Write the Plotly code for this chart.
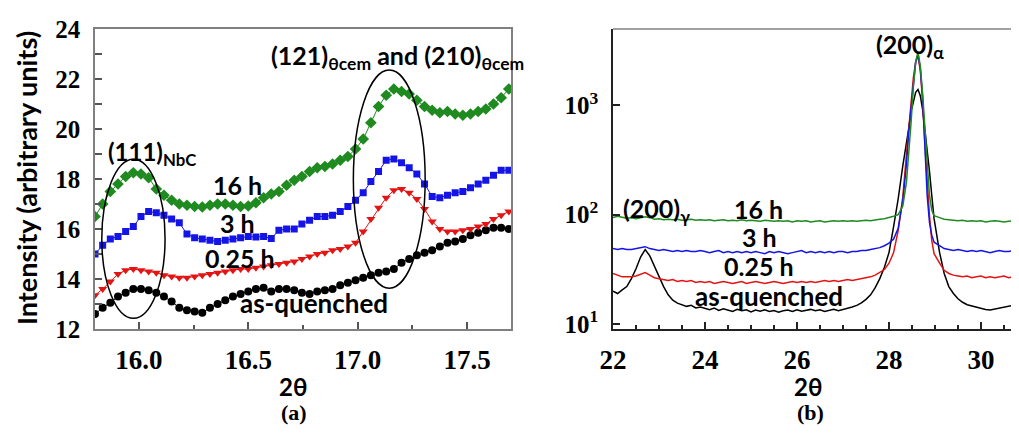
import plotly.graph_objects as go

# ---------------- Panel (a) data ----------------
two_theta_a = [15.800, 15.835, 15.870, 15.905, 15.940, 15.975, 16.010, 16.045, 16.080, 16.115,
               16.150, 16.185, 16.220, 16.255, 16.290, 16.325, 16.360, 16.395, 16.430, 16.465,
               16.500, 16.535, 16.570, 16.605, 16.640, 16.675, 16.710, 16.745, 16.780, 16.815,
               16.850, 16.885, 16.920, 16.955, 16.990, 17.025, 17.060, 17.095, 17.130, 17.165,
               17.200, 17.235, 17.270, 17.305, 17.340, 17.375, 17.410, 17.445, 17.480, 17.515,
               17.550, 17.585, 17.620, 17.655, 17.690]

a_16h = [16.5, 17.0, 17.5, 17.8, 18.1, 18.25, 18.2, 18.05, 17.6, 17.35,
         17.15, 17.0, 16.95, 16.9, 16.88, 16.95, 17.0, 17.0, 16.95, 16.9,
         16.92, 17.05, 17.25, 17.4, 17.5, 17.75, 17.95, 18.1, 18.3, 18.45,
         18.5, 18.6, 18.75, 18.9, 19.2, 19.6, 20.25, 20.9, 21.35, 21.6,
         21.5, 21.4, 21.15, 20.9, 20.75, 20.65, 20.7, 20.6, 20.55, 20.6,
         20.7, 20.8, 21.0, 21.25, 21.6]

a_3h = [15.0, 15.35, 15.6, 15.7, 15.9, 16.1, 16.5, 16.7, 16.65, 16.55,
        16.4, 16.25, 15.8, 15.65, 15.6, 15.55, 15.5, 15.55, 15.6, 15.65,
        15.7, 15.68, 15.7, 15.62, 15.95, 16.0, 16.0, 16.2, 16.35, 16.5,
        16.5, 16.55, 16.7, 16.9, 17.15, 17.45, 17.9, 18.3, 18.75, 18.8,
        18.65, 18.45, 18.2, 17.8, 17.3, 17.25, 17.35, 17.45, 17.5, 17.65,
        17.8, 17.95, 18.15, 18.35, 18.35]

a_025h = [13.35, 13.6, 13.9, 14.2, 14.35, 14.4, 14.35, 14.3, 14.25, 14.15,
          14.1, 14.05, 14.05, 14.1, 14.15, 14.2, 14.25, 14.3, 14.35, 14.4,
          14.4, 14.45, 14.5, 14.55, 14.6, 14.65, 14.7, 14.8, 14.9, 15.0,
          15.05, 15.15, 15.2, 15.3, 15.45, 15.9, 16.4, 16.85, 17.25, 17.55,
          17.6, 17.45, 17.2, 16.8, 16.3, 16.0, 15.9, 15.9, 15.95, 16.0,
          16.1, 16.2, 16.4, 16.55, 16.7]

a_aq = [12.6, 12.85, 13.05, 13.3, 13.45, 13.6, 13.6, 13.55, 13.45, 13.3,
        13.1, 12.85, 12.75, 12.7, 12.65, 12.85, 13.0, 13.15, 13.3, 13.4,
        13.5, 13.6, 13.65, 13.5, 13.6, 13.6, 13.55, 13.45, 13.4, 13.5,
        13.55, 13.6, 13.75, 13.85, 13.95, 14.05, 14.15, 14.25, 14.3, 14.4,
        14.65, 14.8, 14.95, 15.05, 15.15, 15.3, 15.45, 15.5, 15.6, 15.75,
        15.85, 15.95, 16.05, 16.05, 16.0]

# ---------------- Panel (b) data ----------------
two_theta_b = [22.0, 22.1, 22.2, 22.3, 22.4, 22.5, 22.6, 22.7, 22.8, 22.9,
               23.0, 23.1, 23.2, 23.3, 23.4, 23.5, 23.6, 23.7, 23.8, 23.9,
               24.0, 24.1, 24.2, 24.3, 24.4, 24.5, 24.6, 24.7, 24.8, 24.9,
               25.0, 25.1, 25.2, 25.3, 25.4, 25.5, 25.6, 25.7, 25.8, 25.9,
               26.0, 26.1, 26.2, 26.3, 26.4, 26.5, 26.6, 26.7, 26.8, 26.9,
               27.0, 27.1, 27.2, 27.3, 27.4, 27.5, 27.6, 27.7, 27.8, 27.9,
               28.0, 28.1, 28.2, 28.3,
               28.38, 28.43, 28.48, 28.53, 28.58, 28.63, 28.68, 28.73, 28.78, 28.83,
               28.88, 28.93, 28.98,
               29.1, 29.2, 29.3, 29.4, 29.5, 29.6, 29.7, 29.8, 29.9, 30.0,
               30.1, 30.2, 30.3, 30.4, 30.5, 30.6, 30.7, 30.8, 31.0]

b_16h = [94, 97, 95, 93, 94, 92, 94, 96, 94, 91,
         92, 90, 91, 90, 91, 89, 90, 91, 89, 90,
         89, 90, 88, 89, 90, 88, 89, 88, 90, 88,
         89, 88, 87, 89, 88, 87, 88, 87, 88, 86,
         88, 87, 88, 86, 87, 88, 86, 87, 88, 87,
         88, 87, 88, 87, 88, 89, 88, 90, 91, 92,
         94, 97, 100, 120,
         200, 350, 700, 1500, 2500, 3100, 2300, 1300, 600, 260,
         150, 110, 98,
         94, 91, 90, 89, 88, 89, 87, 88, 87, 88,
         86, 87, 88, 87, 86, 87, 88, 87, 88]

b_3h = [49, 48, 49, 48, 48, 49, 50, 51, 49, 48,
        47, 48, 47, 46, 47, 46, 47, 46, 46, 47,
        46, 45, 46, 47, 45, 46, 45, 46, 45, 46,
        45, 46, 45, 44, 46, 45, 46, 45, 44, 45,
        46, 47, 45, 46, 45, 46, 45, 46, 45, 46,
        46, 45, 46, 46, 47, 47, 48, 49, 50, 52,
        55, 60, 75, 135,
        290, 580, 1000, 1700, 2500, 2950, 2200, 1200, 400, 150,
        85, 65, 56,
        52, 49, 48, 47, 48, 47, 46, 47, 46, 47,
        46, 45, 46, 47, 46, 46, 47, 46, 47]

b_025h = [29, 28, 27, 27, 27, 27.5, 28.5, 29.5, 28, 26.5,
          26, 25.5, 25, 25.5, 24.5, 25, 24.5, 25, 24, 24.5,
          24, 24.5, 23.5, 24, 24.5, 24, 23.5, 24, 24.5, 23.5,
          24, 24.5, 24, 23.5, 24, 24.5, 24, 23.5, 24, 24.5,
          24, 24.5, 24, 24.5, 24, 24.5, 25, 24.5, 25, 24.5,
          25, 25.5, 25, 25.5, 26, 26.5, 27, 28, 29.5, 31.5,
          36, 45, 72, 145,
          360, 650, 1100, 1800, 2500, 2850, 2100, 1100, 450, 200,
          98, 58, 44,
          36, 31, 29, 28, 27.5, 27, 27.5, 26.5, 27, 27.5,
          26.5, 27, 26.5, 27, 27.5, 26.5, 27, 27, 27]

b_aq = [20, 19, 20.5, 22, 26, 32, 41, 48, 42, 34,
        27, 22, 18.5, 16.5, 15.5, 15, 14.5, 14.8, 14, 14.3,
        13.8, 13.5, 14, 13.3, 13.8, 13.4, 13, 13.6, 13.2, 13.5,
        12.9, 13.4, 13.1, 13.5, 13, 13.3, 12.8, 13.2, 13.4, 13,
        13.5, 13.1, 13.4, 13.6, 13.2, 13.5, 13, 13.4, 13.6, 13.2,
        13.5, 13.9, 14.3, 14.8, 15.6, 16.8, 18.5, 21.5, 26, 33,
        45, 78, 140, 280,
        440, 620, 880, 1120, 1320, 1400, 1230, 920, 620, 400,
        250, 150, 92,
        45, 29, 22, 19, 17, 15.8, 15, 14.6, 14.2, 13.9,
        13.6, 13.4, 13.7, 14, 14.3, 14.5, 14.8, 15, 15.2]

log_tickvals = [10, 100, 1000]
log_ticktext = ["10<sup>1</sup>", "10<sup>2</sup>", "10<sup>3</sup>"]

W, H = 1019, 445
OFF = 8  # page body margin in the browser
def px(x):
    return (x - OFF) / W
def py(y):
    return 1 - (y - OFF) / H

GREEN, BLUE, RED, BLACK = "#1f8a1f", "#1414e6", "#e31414", "#000000"

fig = go.Figure()

# panel (a)
for yv, col, sym, sz in [(a_aq, BLACK, "circle", 8), (a_025h, RED, "triangle-down", 8),
                         (a_3h, BLUE, "square", 7), (a_16h, GREEN, "diamond", 9)]:
    fig.add_trace(go.Scatter(x=two_theta_a, y=yv, mode="lines+markers",
                             line=dict(color=col, width=1),
                             marker=dict(symbol=sym, size=sz, color=col),
                             xaxis="x", yaxis="y", showlegend=False))

# panel (b)
for yv, col in [(b_aq, BLACK), (b_025h, RED), (b_3h, BLUE), (b_16h, GREEN)]:
    fig.add_trace(go.Scatter(x=two_theta_b, y=yv, mode="lines",
                             line=dict(color=col, width=1.5),
                             xaxis="x2", yaxis="y2", showlegend=False))

tickfont = dict(family="Liberation Serif", size=27, color="black", weight="bold")
ytickfont = dict(family="Liberation Serif", size=25, color="black", weight="bold")
ydom = [py(329), py(29)]
x2_right = 22 + (W + OFF - 613) / 46.0

fig.update_layout(
    template="none",
    width=W, height=H, margin=dict(l=0, r=0, t=0, b=0, autoexpand=False),
    paper_bgcolor="white", plot_bgcolor="white",
    xaxis=dict(domain=[px(95), px(511)], range=[15.8, 17.7], tick0=16.0, dtick=0.5,
               tickformat=".1f", ticks="inside", ticklen=7, tickwidth=1.5, tickcolor="#555",
               minor=dict(dtick=0.25, ticks="inside", ticklen=4, tickcolor="#555", tickwidth=1.5),
               showline=True, linecolor="#808080", linewidth=1.5, mirror=True,
               showgrid=False, zeroline=False, tickfont=tickfont, ticklabelstandoff=6,
               anchor="y", automargin=False),
    yaxis=dict(domain=ydom, range=[12, 24], dtick=2, ticks="inside", ticklen=7, tickwidth=1.5,
               tickcolor="#555",
               minor=dict(dtick=1, ticks="inside", ticklen=7, tickcolor="#555", tickwidth=1.5),
               showline=True, linecolor="#808080", linewidth=1.5, mirror=True,
               showgrid=False, zeroline=False, tickfont=ytickfont, ticklabelstandoff=8,
               anchor="x", automargin=False),
    xaxis2=dict(domain=[px(613), 1.0], range=[22, x2_right], dtick=2, ticks="inside", ticklen=7,
                tickwidth=1.5, tickcolor="#222",
                minor=dict(dtick=0.5, ticks="inside", ticklen=4, tickcolor="#222", tickwidth=1.5),
                showline=True, linecolor="#222", linewidth=1.5, showgrid=False, zeroline=False,
                tickfont=tickfont, ticklabelstandoff=6, anchor="y2", automargin=False),
    yaxis2=dict(domain=ydom, type="log", range=[0.954, 3.70],
                tickmode="array", tickvals=log_tickvals, ticktext=log_ticktext,
                ticks="inside", ticklen=7, tickwidth=1.5, tickcolor="#222",
                showline=True, linecolor="#222", linewidth=1.5, showgrid=False, zeroline=False,
                tickfont=ytickfont, ticklabelstandoff=8, anchor="x2", automargin=False),
)

shapes = [
    dict(type="circle", xref="x", yref="y", x0=15.831, x1=16.12, y0=12.43, y1=18.79,
         line=dict(color="black", width=1.5)),
    dict(type="circle", xref="x", yref="y", x0=16.98, x1=17.308, y0=13.63, y1=22.36,
         line=dict(color="black", width=1.5)),
    dict(type="line", xref="paper", yref="paper", x0=px(613), x1=1.0, y0=py(29), y1=py(29),
         line=dict(color="#808080", width=1.5)),
]
fig.update_layout(shapes=shapes)

sans = "Lato"
def ann(text, x, y, size=25, xanchor="center", yanchor="middle", weight="bold",
        family=sans, angle=0):
    fig.add_annotation(text=text, x=px(x), y=py(y), xref="paper", yref="paper",
                       showarrow=False, xanchor=xanchor, yanchor=yanchor, textangle=angle,
                       font=dict(family=family, size=size, color="black", weight=weight))

# panel (a) labels
ann("(111)<sub>NbC</sub>", 106, 153, size=24, xanchor="left")
ann("(121)<sub>θcem</sub> and (210)<sub>θcem</sub>", 269, 57, size=25, xanchor="left")
ann("16 h", 237, 185, size=25)
ann("3 h", 237, 223, size=25)
ann("0.25 h", 240, 258, size=25)
ann("as-quenched", 314, 303, size=26)

# panel (b) labels
ann("(200)<sub>α</sub>", 874, 46, size=25, xanchor="left")
ann("(200)<sub>γ</sub>", 621, 210, size=25, xanchor="left")
ann("16 h", 758, 209, size=25)
ann("3 h", 759, 237, size=25)
ann("0.25 h", 759, 266, size=25)
ann("as-quenched", 769, 296, size=26)

# axis titles and panel letters
ann("Intensity (arbitrary units)", 26, 178, size=27, angle=-90)
ann("2θ", 293, 386, size=24)
ann("2θ", 808, 386, size=24)
ann("(a)", 294, 412, size=22, family="Liberation Serif")
ann("(b)", 810, 412, size=22, family="Liberation Serif")

fig.write_html("out.html")
